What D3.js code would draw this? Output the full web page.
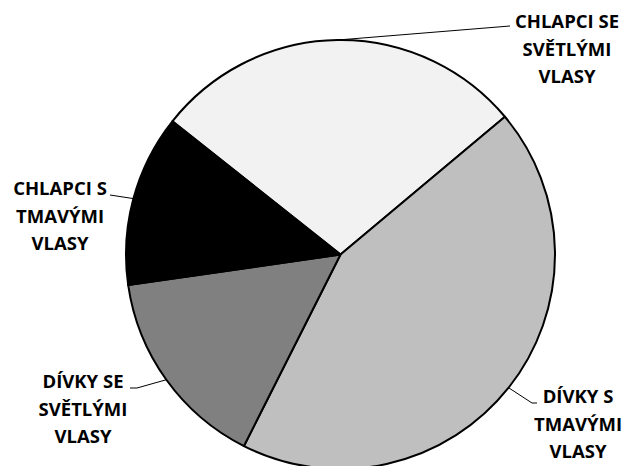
<!DOCTYPE html>
<html><head><meta charset="utf-8">
<script src="https://cdn.jsdelivr.net/npm/d3@7"></script>
<style>body{margin:0;background:#fff}svg{display:block}</style>
</head><body>
<svg id="c" width="624" height="466"></svg>
<script>
// Data (in drawing order clockwise)
const categories = ["CHLAPCI SE SVĚTLÝMI VLASY", "DÍVKY S TMAVÝMI VLASY", "DÍVKY SE SVĚTLÝMI VLASY", "CHLAPCI S TMAVÝMI VLASY"];
const labelLines = [["CHLAPCI SE","SVĚTLÝMI","VLASY"],["DÍVKY S","TMAVÝMI","VLASY"],["DÍVKY SE","SVĚTLÝMI","VLASY"],["CHLAPCI S","TMAVÝMI","VLASY"]];
const values = [24, 37, 13, 11];
const colors = ["#f2f2f2", "#bfbfbf", "#808080", "#000000"];

// Layout
const cx = 340.5, cy = 254.5, R = 214.5;
const startDeg = 308.4;
// label layout: text centre x, first baseline, leader points after the pie edge
const labelLayout = [
  {tx: 567, ty: 28, pts: [[510, 26]]},
  {tx: 578, ty: 403, pts: [[532, 403], [537, 403]]},
  {tx: 83, ty: 388, pts: [[137, 388], [130, 388]]},
  {tx: 60, ty: 195, pts: [[110, 195]]}
];

const svg = d3.select("#c");
const g = svg.append("g").attr("transform", `translate(${cx},${cy})`);
const pie = d3.pie().sort(null).value(d => d)
  .startAngle(startDeg * Math.PI / 180).endAngle((startDeg + 360) * Math.PI / 180);
const arcs = pie(values);
const arc = d3.arc().innerRadius(0).outerRadius(R);

g.selectAll("path.slice").data(arcs).join("path")
  .attr("class", "slice")
  .attr("d", arc)
  .attr("fill", (d, i) => colors[i])
  .attr("stroke", "#000")
  .attr("stroke-width", 2)
  .attr("stroke-linejoin", "round");

// leader lines
arcs.forEach((a, i) => {
  const mid = (a.startAngle + a.endAngle) / 2;
  const px = cx + R * Math.sin(mid), py = cy - R * Math.cos(mid);
  const pts = [[px, py]].concat(labelLayout[i].pts);
  svg.append("path")
    .attr("d", d3.line()(pts))
    .attr("fill", "none").attr("stroke", "#000").attr("stroke-width", 1);
});

// labels
labelLines.forEach((lines, i) => {
  const L = labelLayout[i];
  const t = svg.append("text")
    .attr("text-anchor", "middle")
    .attr("font-family", "'Open Sans', Lato, sans-serif")
    .attr("font-weight", "bold")
    .attr("font-size", 18.5)
    .attr("fill", "#000");
  lines.forEach((s, j) => {
    t.append("tspan").attr("x", L.tx).attr("y", L.ty + j * 27.5).text(s);
  });
});
</script>
</body></html>
